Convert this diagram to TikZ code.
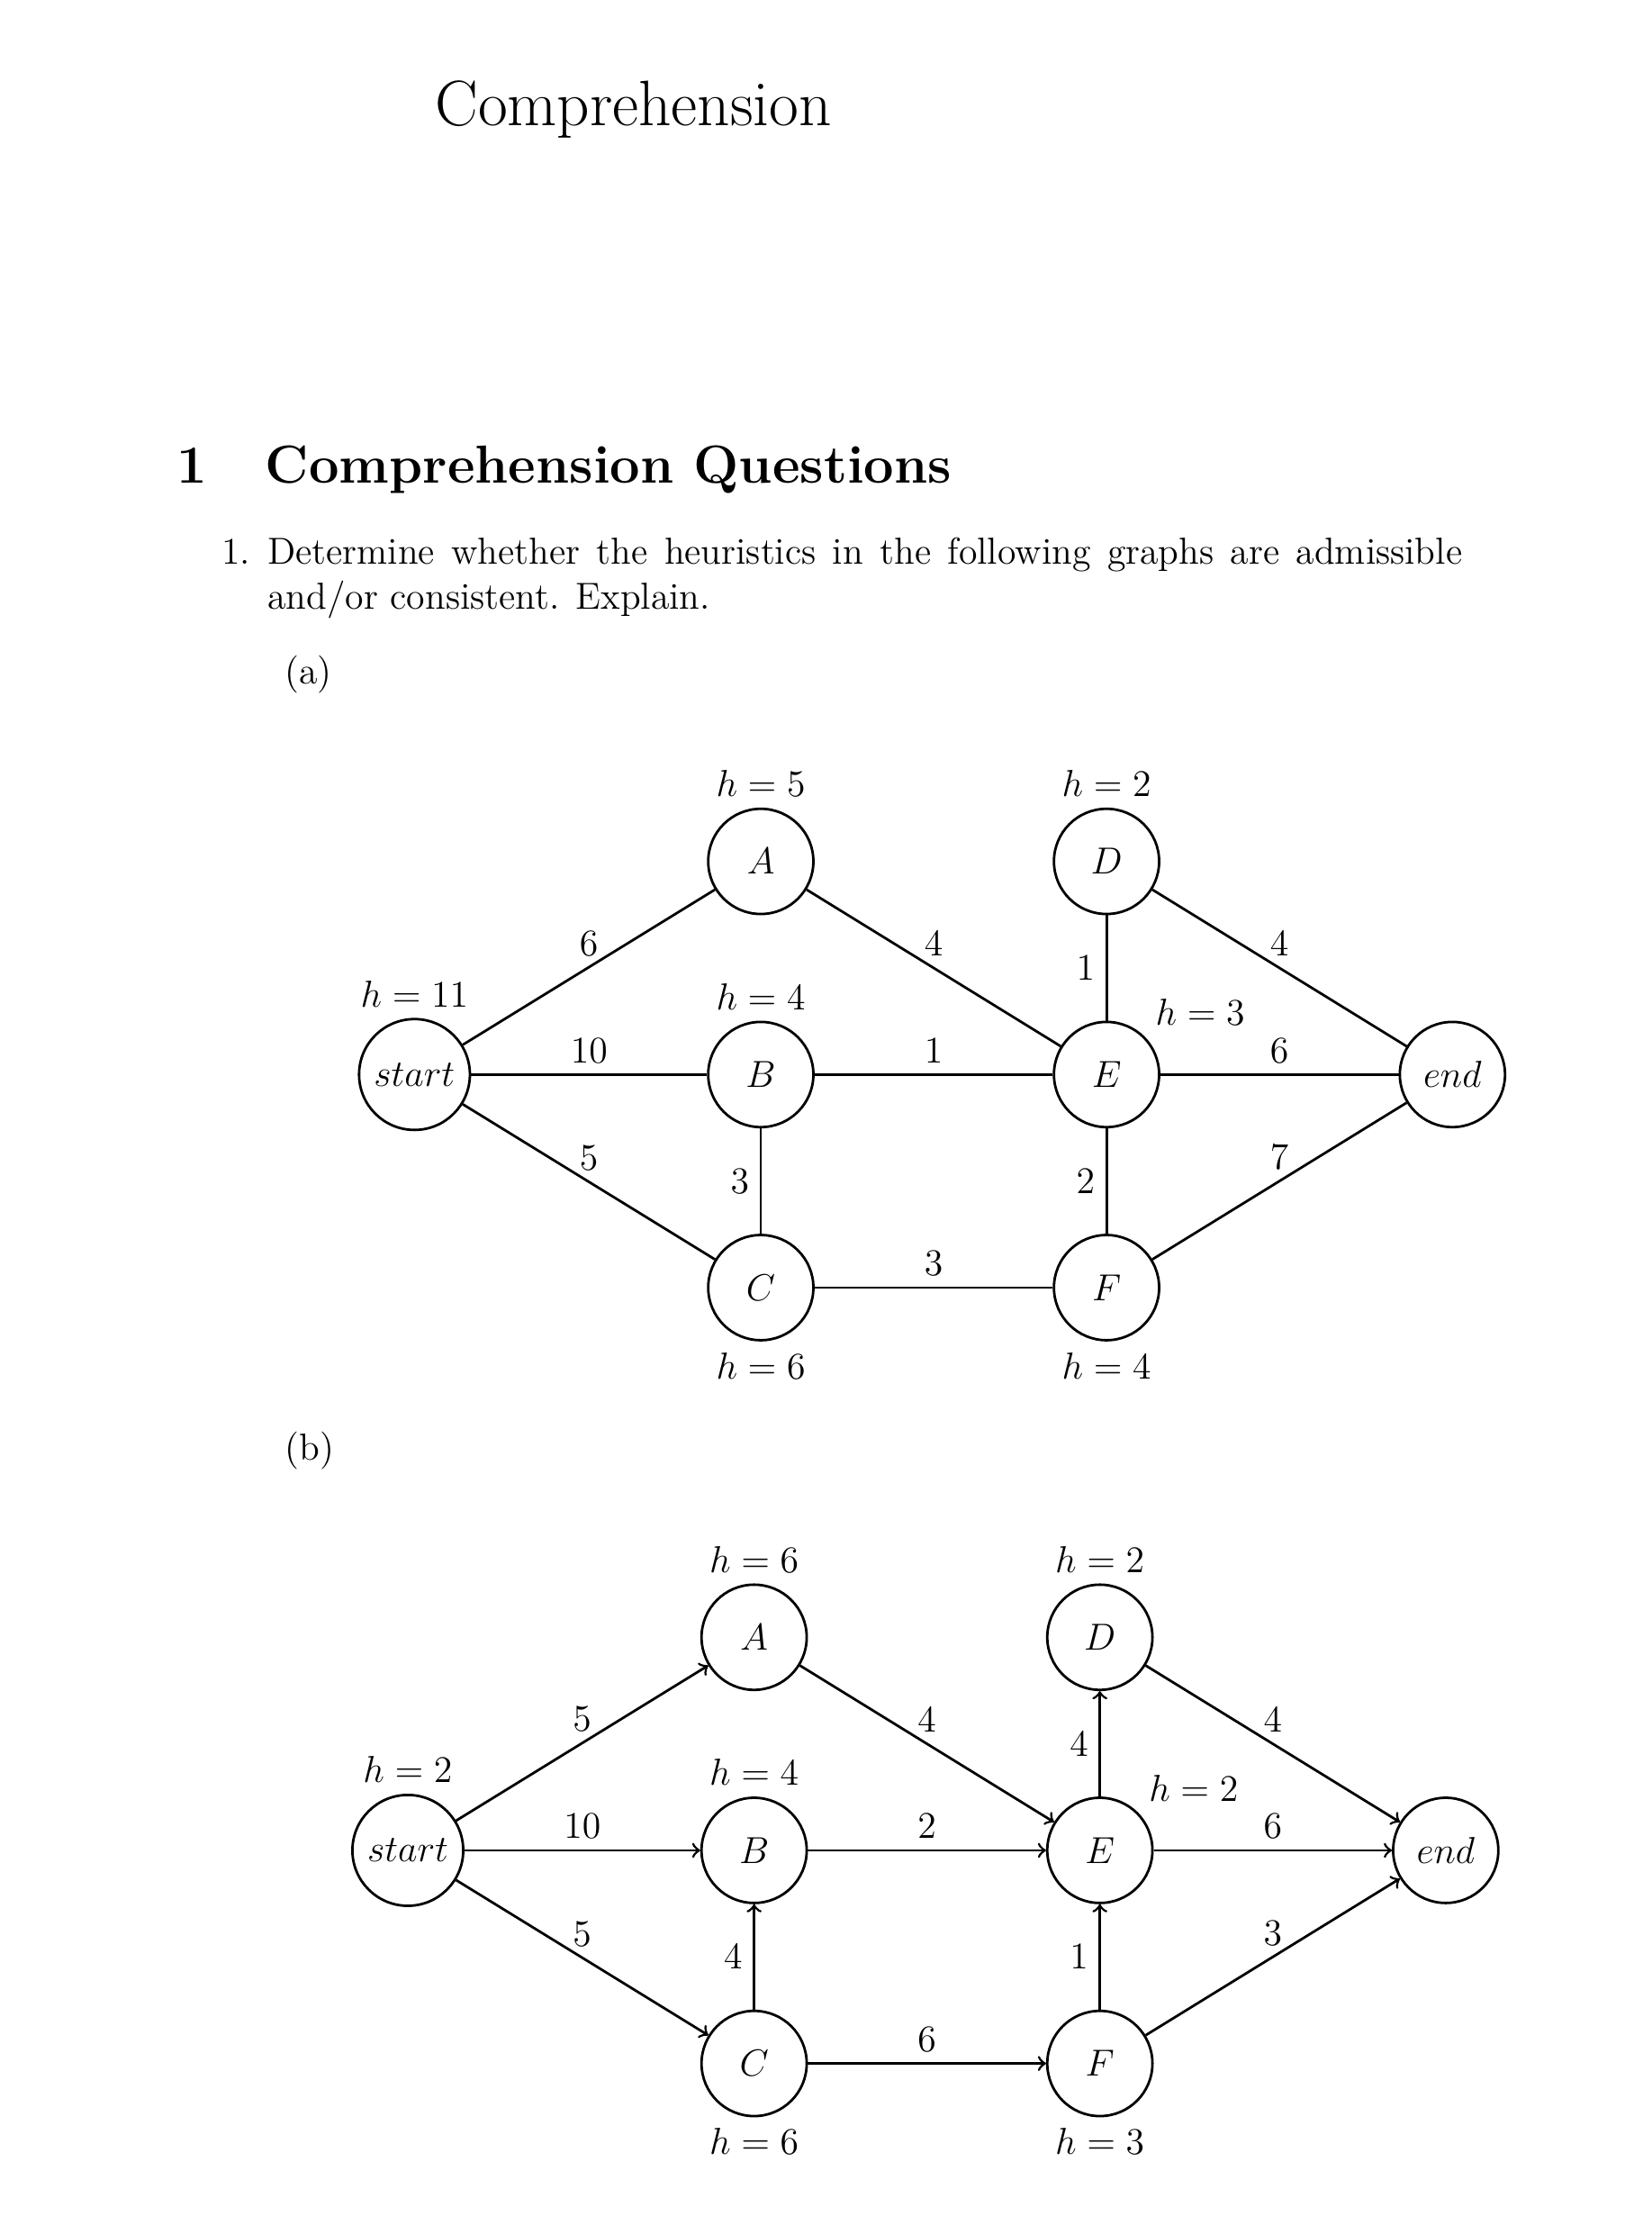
\documentclass[tikz,border=0pt]{standalone}
\usepackage{amsmath, amssymb}

\begin{document}
\begin{tikzpicture}[x = 0.4534pt, y = -0.4534pt,
  font = \fontsize{12}{14.5}\selectfont,
  txt/.style = {inner sep = 0pt},
  vertex/.style = {circle, draw, thick, minimum size = 1.18cm},
  link/.style = {thick},
  arc/.style = {thick, ->}]
\useasboundingbox (0,0) rectangle (1163,1566.1);

\node[txt, anchor = base, font = \fontsize{20.5}{25}\selectfont] (title) at (446,88.7) {Comprehension};
\node[txt, anchor = base west, font = \fontsize{17.1}{22}\selectfont\bfseries] (secnum) at (124,340) {1};
\node[txt, anchor = base west, font = \fontsize{17.1}{22}\selectfont\bfseries] (sec) at (186.5,340) {Comprehension Questions};
\node[txt, anchor = base west] (item) at (155.7,397.2) {1.};
\node[txt, anchor = base west] (line1) at (188,397.2) {\makebox[381.3pt][s]{Determine whether the heuristics in the following graphs are admissible}};
\node[txt, anchor = base west] (line2) at (188,429) {and/or consistent. Explain.};
\node[txt, anchor = base west] (parta) at (200.2,481.6) {(a)};
\node[txt, anchor = base west] (partb) at (200.2,1027.8) {(b)};

% graph (a)
\node[vertex, label = {above:$h = 11$}] (s1) at (291.8,756.3) {$start$};
\node[vertex, label = {above:$h = 5$}] (A1) at (535.6,606.3) {$A$};
\node[vertex, label = {above:$h = 4$}] (B1) at (535.6,756.3) {$B$};
\node[vertex, label = {below:$h = 6$}] (C1) at (535.6,906.3) {$C$};
\node[vertex, label = {above:$h = 2$}] (D1) at (779,606.3) {$D$};
\node[vertex, label = {45:$h = 3$}] (E1) at (779,756.3) {$E$};
\node[vertex, label = {below:$h = 4$}] (F1) at (779,906.3) {$F$};
\node[vertex] (t1) at (1022.5,756.3) {$end$};

\draw[link] (s1)--(A1) node[midway, above] {$6$};
\draw[link] (s1)--(B1) node[midway, above] {$10$};
\draw[link] (s1)--(C1) node[midway, above] {$5$};
\draw[link] (A1)--(E1) node[midway, above] {$4$};
\draw[link] (B1)--(E1) node[midway, above] {$1$};
\draw[link] (B1)--(C1) node[midway, left] {$3$};
\draw[link] (C1)--(F1) node[midway, above] {$3$};
\draw[link] (D1)--(E1) node[midway, left] {$1$};
\draw[link] (E1)--(F1) node[midway, left] {$2$};
\draw[link] (D1)--(t1) node[midway, above] {$4$};
\draw[link] (E1)--(t1) node[midway, above] {$6$};
\draw[link] (F1)--(t1) node[midway, above] {$7$};

% graph (b)
\begin{scope}[shift = {(-4.7,546.1)}]
\node[vertex, label = {above:$h = 2$}] (s2) at (291.8,756.3) {$start$};
\node[vertex, label = {above:$h = 6$}] (A2) at (535.6,606.3) {$A$};
\node[vertex, label = {above:$h = 4$}] (B2) at (535.6,756.3) {$B$};
\node[vertex, label = {below:$h = 6$}] (C2) at (535.6,906.3) {$C$};
\node[vertex, label = {above:$h = 2$}] (D2) at (779,606.3) {$D$};
\node[vertex, label = {45:$h = 2$}] (E2) at (779,756.3) {$E$};
\node[vertex, label = {below:$h = 3$}] (F2) at (779,906.3) {$F$};
\node[vertex] (t2) at (1022.5,756.3) {$end$};
\end{scope}

\draw[arc] (s2)--(A2) node[midway, above] {$5$};
\draw[arc] (s2)--(B2) node[midway, above] {$10$};
\draw[arc] (s2)--(C2) node[midway, above] {$5$};
\draw[arc] (A2)--(E2) node[midway, above] {$4$};
\draw[arc] (B2)--(E2) node[midway, above] {$2$};
\draw[arc] (C2)--(B2) node[midway, left] {$4$};
\draw[arc] (C2)--(F2) node[midway, above] {$6$};
\draw[arc] (E2)--(D2) node[midway, left] {$4$};
\draw[arc] (F2)--(E2) node[midway, left] {$1$};
\draw[arc] (D2)--(t2) node[midway, above] {$4$};
\draw[arc] (E2)--(t2) node[midway, above] {$6$};
\draw[arc] (F2)--(t2) node[midway, above] {$3$};
\end{tikzpicture}
\end{document}
